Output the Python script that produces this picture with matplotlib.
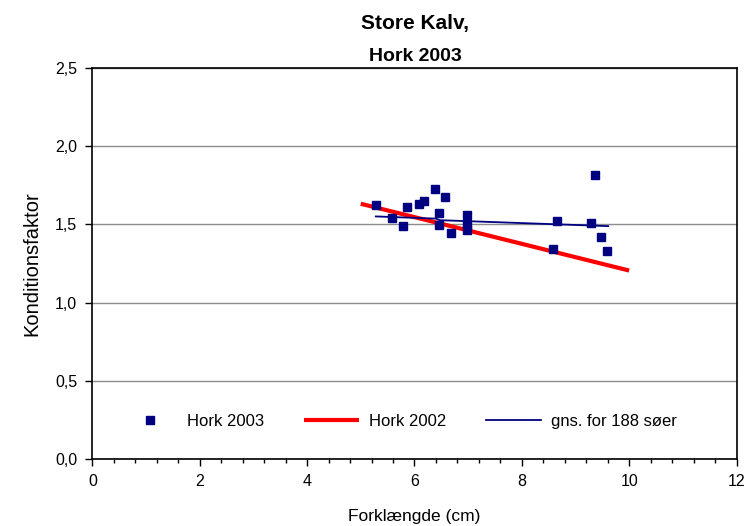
import matplotlib
matplotlib.use("Agg")
import matplotlib.pyplot as plt
from matplotlib.ticker import MultipleLocator, FuncFormatter

plt.rcParams["font.family"] = ["Liberation Sans", "DejaVu Sans"]

# Hork 2003 measurements
length_2003 = [5.28, 5.58, 5.79, 5.87, 6.09, 6.17, 6.39, 6.46, 6.46, 6.57,
               6.68, 6.98, 6.98, 6.98, 8.58, 8.66, 9.29, 9.36, 9.48, 9.59]
kf_2003 = [1.622, 1.543, 1.49, 1.609, 1.633, 1.647, 1.724, 1.571, 1.494, 1.673,
           1.442, 1.558, 1.50, 1.466, 1.34, 1.519, 1.506, 1.814, 1.417, 1.327]

# Hork 2002 regression line
length_2002 = [5.0, 10.0]
kf_2002 = [1.632, 1.205]

# average for 188 lakes
length_avg = [5.28, 6.40, 6.47, 9.61]
kf_avg = [1.551, 1.537, 1.527, 1.489]

fig = plt.figure(figsize=(7.45, 5.26), dpi=100)
ax = fig.add_axes([0.124, 0.1274, 0.8646, 0.7433])

ax.plot(length_2003, kf_2003, linestyle="none", marker="s", markersize=6,
        color="#000080", label="Hork 2003", zorder=4)
ax.plot(length_2002, kf_2002, color="#ff0000", linewidth=3, label="Hork 2002",
        zorder=3, solid_capstyle="butt")
ax.plot(length_avg, kf_avg, color="#000080", linewidth=1.3,
        label="gns. for 188 søer", zorder=5)

ax.set_xlim(0, 12)
ax.set_ylim(0, 2.5)
ax.xaxis.set_major_locator(MultipleLocator(2))
ax.xaxis.set_minor_locator(MultipleLocator(0.4))
ax.yaxis.set_major_locator(MultipleLocator(0.5))
ax.yaxis.set_major_formatter(FuncFormatter(lambda v, p: f"{v:.1f}".replace(".", ",")))
ax.tick_params(axis="both", which="major", direction="out", length=5,
               width=1, labelsize=11.5, pad=6)
ax.tick_params(axis="x", which="minor", direction="out", length=3, width=1)

ax.grid(axis="y", color="#8c8c8c", linewidth=1)
ax.set_axisbelow(True)
for s in ax.spines.values():
    s.set_linewidth(1.2)

ax.set_xlabel("Forklængde (cm)", fontsize=12.5, labelpad=14)
ax.set_ylabel("Konditionsfaktor", fontsize=14.5, labelpad=10)

fig.text(0.557, 0.945, "Store Kalv,", ha="center", va="baseline",
         fontsize=15, fontweight="bold")
fig.text(0.557, 0.884, "Hork 2003", ha="center", va="baseline",
         fontsize=14, fontweight="bold")

ax.legend(loc="center", bbox_to_anchor=(0.477, 0.097), ncol=3, frameon=False,
          fontsize=12, handlelength=3.3, handletextpad=0.6, columnspacing=2.4)

fig.savefig("out.png", dpi=100)
